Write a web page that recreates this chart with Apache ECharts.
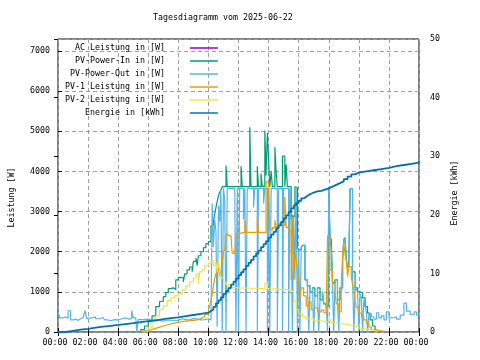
<!DOCTYPE html>
<html><head><meta charset="utf-8">
<script src="https://cdn.jsdelivr.net/npm/echarts@6/dist/echarts.min.js"></script>
<style>html,body{margin:0;padding:0;background:#fff}#c{width:480px;height:360px}</style>
</head><body><div id="c"></div>
<script>
const chartTitle = 'Tagesdiagramm vom 2025-06-22';
const xTickLabels = ['00:00','02:00','04:00','06:00','08:00','10:00','12:00','14:00','16:00','18:00','20:00','22:00','00:00'];
const seriesNames = ['AC Leistung in [W]','PV-Power-In in [W]','PV-Power-Out in [W]','PV-1 Leistung in [W]','PV-2 Leistung in [W]','Energie in [kWh]'];
const seriesColors = ['#9400d3','#009e73','#56b4e9','#e69f00','#f0e442','#0072b2'];

// [hour, W]
const acPower = [[16.67,850],[16.75,850]];

const pvIn = [
[5.25,0],[5.5,60],[5.75,150],[6,260],[6.25,400],[6.5,630],[6.75,760],[7,880],[7.17,980],[7.33,1080],[7.5,1100],[7.67,1060],[7.83,1300],[8,1360],[8.17,1350],[8.33,1250],[8.42,1450],[8.58,1550],[8.75,1620],[8.92,1500],[9,1760],[9.17,1850],[9.25,1650],[9.33,1900],[9.5,2000],[9.67,2100],[9.83,2200],[10,2250],[10.17,2650],[10.33,2720],[10.42,2950],[10.5,3100],[10.58,3250],[10.67,3400],[10.75,3480],[10.83,3540],[10.92,3620],
[11.17,4150],[11.25,3620],[12.17,4130],[12.25,3620],[12.75,5100],[12.83,3620],[13.25,4130],[13.33,3620],[13.5,3950],[13.58,3620],[13.75,5020],[13.83,3900],[13.92,4960],[14,4300],[14.08,3620],[14.17,4000],[14.25,3620],[14.42,4600],[14.5,4000],[14.58,3620],[14.92,4380],[15.08,3620],[15.17,4170],[15.25,3620],
[15.5,2800],[15.58,2900],[15.67,2870],[15.75,3620],[15.83,3600],[15.92,2100],[16,2050],[16.17,2100],[16.25,2160],[16.42,1300],[16.58,1150],[16.75,1000],[16.92,1100],[17.08,900],[17.25,1100],[17.42,800],[17.58,1000],[17.67,700],[17.83,650],[18,3600],[18.08,2400],[18.17,2300],[18.25,1230],[18.42,1300],[18.58,800],[18.75,1100],[18.92,1800],[19,2300],[19.08,2350],[19.17,1800],[19.25,1600],[19.33,1650],[19.42,3570],[19.5,3570],[19.58,1500],[19.75,1100],[19.92,1000],[20.08,970],[20.25,850],[20.42,630],[20.58,470],[20.75,300],[20.92,150],[21.08,50],[21.25,0]
];

const pvOut = [
[0,500],[0.13,350],[0.33,380],[0.5,340],[0.67,530],[0.83,300],[1,320],[1.17,290],[1.35,330],[1.5,360],[1.67,320],[1.8,530],[1.9,340],[2,350],[2.25,380],[2.5,330],[2.75,360],[3,340],[3.1,300],[3.33,280],[3.5,310],[3.75,300],[4,330],[4.25,350],[4.5,320],[4.75,340],[4.9,530],[5,350],[5.17,330],[5.24,0],[5.33,310],[5.67,320],[6,300],[6.33,310],[6.5,290],[6.75,270],[7,300],[7.33,280],[7.67,290],[8,330],[8.25,310],[8.5,300],[8.75,340],[9,320],[9.25,300],[9.5,310],[9.75,330],[10,300],[10.17,320],
[10.25,3200],[10.33,2120],[10.42,2800],[10.5,2500],[10.58,130],[10.67,3150],[10.75,2750],[10.83,3530],[10.92,0],[11,3580],[11.08,3300],[11.17,0],[11.25,3580],[11.75,3580],[11.83,0],[11.92,3580],[12,0],[12.08,3580],[12.33,2800],[12.42,3580],[12.5,0],[12.58,3580],[13,3100],[13.08,3580],[13.25,0],[13.33,3580],[13.67,3200],[13.75,3580],[13.92,0],[14,3580],[14.08,0],[14.17,3580],[14.58,0],[14.67,3580],[14.92,0],[15,3580],[15.33,0],[15.42,3580],[15.5,2800],[15.58,0],[15.67,2870],[15.75,1300],[15.83,3600],[15.92,0],
[16,2050],[16.08,0],[16.17,2100],[16.25,2160],[16.42,1300],[16.58,1150],[16.67,0],[16.75,1000],[16.92,1100],[17,0],[17.08,900],[17.25,1100],[17.33,0],[17.42,800],[17.58,1000],[17.67,700],[17.83,650],[17.92,0],[18,3600],[18.08,2400],[18.17,2000],[18.25,1200],[18.33,0],[18.42,1300],[18.58,800],[18.67,0],[18.75,1100],[18.92,1800],[19,2300],[19.08,2350],[19.17,1800],[19.25,1600],[19.33,1650],[19.42,3570],[19.5,3570],[19.58,1400],[19.67,0],[19.75,1100],[19.83,1050],[19.92,1000],[20,0],[20.08,950],[20.17,850],[20.25,0],[20.33,800],[20.42,630],[20.5,500],[20.58,0],[20.67,450],[20.83,380],[21,320],[21.17,480],[21.33,350],[21.5,400],[21.67,300],[21.83,500],[22,350],[22.25,380],[22.5,320],[22.75,420],[23,720],[23.17,520],[23.42,430],[23.67,500],[23.83,420],[24,430]
];

const pv1 = [
[5.33,0],[5.5,20],[5.75,40],[6,60],[6.25,90],[6.5,120],[6.75,150],[7,175],[7.25,200],[7.5,220],[7.75,240],[8,260],[8.25,270],[8.5,280],[8.75,290],[9,300],[9.25,340],[9.5,380],[9.75,440],[10,550],[10.08,650],[10.17,800],[10.25,920],[10.33,1150],[10.42,1350],[10.5,1450],[10.58,1550],[10.67,1600],[10.75,1400],[10.83,1500],[10.92,1750],[11,2000],[11.08,2050],[11.17,2400],[11.25,2450],[11.33,2400],[11.5,2380],[11.58,1960],[11.75,2000],[11.83,2450],[12,2480],[12.42,2780],[12.5,2480],[13.25,2870],[13.33,2480],[13.83,3740],[14,3740],[14.08,2540],[14.25,2600],[14.42,2780],[14.5,2600],[14.67,2700],[14.83,2650],[15.08,3370],[15.17,2600],[15.33,2540],
[15.5,1300],[15.58,2870],[15.67,1300],[15.75,2000],[15.83,1800],[15.92,1500],[16,1300],[16.08,800],[16.17,1100],[16.33,900],[16.5,650],[16.67,750],[16.83,550],[17,600],[17.25,500],[17.5,550],[17.67,480],[17.83,600],[17.92,2400],[18,2400],[18.08,1550],[18.25,1200],[18.42,970],[18.5,700],[18.67,500],[18.83,1200],[18.92,1900],[19,2200],[19.08,1960],[19.17,1800],[19.25,1380],[19.33,1630],[19.5,1370],[19.58,1200],[19.67,1050],[19.75,800],[19.83,600],[19.92,630],[20,470],[20.17,380],[20.33,300],[20.5,220],[20.67,130],[20.83,50],[21,10],[21.9,0]
];

const pv2 = [
[5.75,0],[6,100],[6.25,250],[6.5,400],[6.75,550],[7,650],[7.25,780],[7.5,850],[7.75,900],[8,950],[8.25,1050],[8.5,1150],[8.75,1250],[9,1350],[9.17,1450],[9.33,1200],[9.42,1500],[9.58,1550],[9.75,1650],[10,1700],[10.17,1780],[10.33,1650],[10.5,1750],[10.58,1500],[10.67,1800],[10.75,1550],[10.83,1350],[11,1250],[11.17,1180],[11.33,1120],[11.5,1100],[12,1090],[13,1080],[13.75,1220],[13.92,1080],[14,1060],[15,1050],[15.33,1030],[15.5,1000],[15.67,780],[15.83,560],[16,450],[16.25,380],[16.5,330],[17,280],[17.5,250],[18,220],[18.08,330],[18.17,230],[18.5,200],[19,170],[19.5,130],[20,80],[20.5,40],[21,15],[21.3,0]
];

// [hour, kWh]
const energy = [
[0,0],[0.5,0.2],[1,0.4],[1.5,0.55],[2,0.75],[2.5,0.9],[3,1.05],[3.5,1.2],[4,1.36],[4.5,1.5],[5,1.7],[5.5,1.85],[6,2.0],[6.5,2.2],[7,2.35],[7.5,2.5],[8,2.7],[8.5,2.9],[9,3.1],[9.5,3.3],
[10,3.6],[10.17,3.8],[10.33,4.3],[10.5,4.9],[10.67,5.4],[10.83,5.9],[11,6.5],[11.17,7.0],[11.33,7.5],[11.5,8.1],[11.67,8.6],[11.83,9.1],[12,9.7],[12.17,10.2],[12.33,10.7],[12.5,11.3],[12.67,11.8],[12.83,12.3],[13,12.9],[13.17,13.4],[13.33,13.9],[13.5,14.5],[13.67,15.0],[13.83,15.5],[14,16.1],[14.17,16.6],[14.33,17.1],[14.5,17.7],[14.67,18.2],[14.83,18.8],[15,19.4],[15.17,19.9],[15.33,20.5],[15.5,21.1],[15.67,21.6],[15.83,22.0],[16,22.4],[16.17,22.8],[16.33,23.1],[16.5,23.4],[16.67,23.6],[16.83,23.8],[17,24.0],[17.25,24.1],[17.5,24.3],[17.75,24.5],[18,24.8],[18.25,25.1],[18.5,25.4],[18.75,25.7],[19,26.1],[19.25,26.5],[19.5,26.9],[19.75,27.2],[20,27.4],[20.5,27.6],[21,27.8],[21.5,28.0],[22,28.3],[22.5,28.5],[23,28.7],[23.5,28.9],[24,29.2]
];

const FONT = 'DejaVu Sans Mono';
const FS = 8.3;
const txt = {fontFamily: FONT, fontSize: FS, color: '#000'};
const gridLine = {show: true, lineStyle: {color: '#a0a0a0', width: 1, type: [4, 3]}};
const tick = {show: true, inside: true, length: 4, lineStyle: {color: '#000', width: 1}};

const datasets = [acPower, pvIn, pvOut, pv1, pv2, energy];
const series = datasets.map((d, i) => ({
  name: seriesNames[i],
  type: 'line',
  step: 'end',
  data: d,
  yAxisIndex: i === 5 ? 1 : 0,
  symbol: 'none',
  color: seriesColors[i],
  lineStyle: {width: i === 5 ? 1.8 : 1.2, color: seriesColors[i]},
  emphasis: {disabled: true},
  silent: true
}));

const chart = echarts.init(document.getElementById('c'), null, {renderer: 'canvas'});
chart.setOption({
  animation: false,
  backgroundColor: '#fff',
  title: {text: chartTitle, left: 153, top: 13, padding: 0, textStyle: Object.assign({fontWeight: 'normal', lineHeight: 10}, txt)},
  grid: {left: 58, right: 61, top: 39, bottom: 28, show: true, borderColor: '#000', borderWidth: 1, backgroundColor: 'transparent'},
  legend: {
    orient: 'vertical', left: 65, top: 43, padding: 0, align: 'right',
    itemWidth: 28, itemHeight: 10, itemGap: 3,
    itemStyle: {opacity: 0},
    lineStyle: {width: 1.5},
    formatter: n => n + '    ',
    textStyle: Object.assign({lineHeight: 10}, txt),
    selectedMode: false
  },
  xAxis: [{
    type: 'value', min: 0, max: 24, interval: 2,
    axisLine: {show: false}, axisTick: tick, splitLine: gridLine,
    axisLabel: Object.assign({margin: 7, padding: [0, 6, 0, 0], formatter: v => xTickLabels[Math.round(v / 2)]}, txt)
  }, {
    type: 'value', min: 0, max: 24, interval: 2, position: 'top',
    axisLine: {show: false}, axisTick: tick, splitLine: {show: false}, axisLabel: {show: false}
  }],
  yAxis: [{
    type: 'value', min: 0, max: 7300, interval: 1000,
    axisLine: {show: false}, axisTick: tick, splitLine: gridLine,
    axisLabel: Object.assign({margin: 8, showMaxLabel: false, formatter: v => String(v)}, txt),
    name: 'Leistung [W]', nameLocation: 'middle', nameGap: 42,
    nameTextStyle: Object.assign({padding: [0, 24, 0, 0]}, txt)
  }, {
    type: 'value', min: 0, max: 50, interval: 10, position: 'right',
    axisLine: {show: false}, axisTick: tick, splitLine: {show: false},
    axisLabel: Object.assign({margin: 11, formatter: v => String(v)}, txt),
    name: 'Energie [kWh]', nameLocation: 'middle', nameGap: 28,
    nameTextStyle: Object.assign({padding: [0, 15, 0, 0]}, txt)
  }],
  series: series
});
</script>
</body></html>
